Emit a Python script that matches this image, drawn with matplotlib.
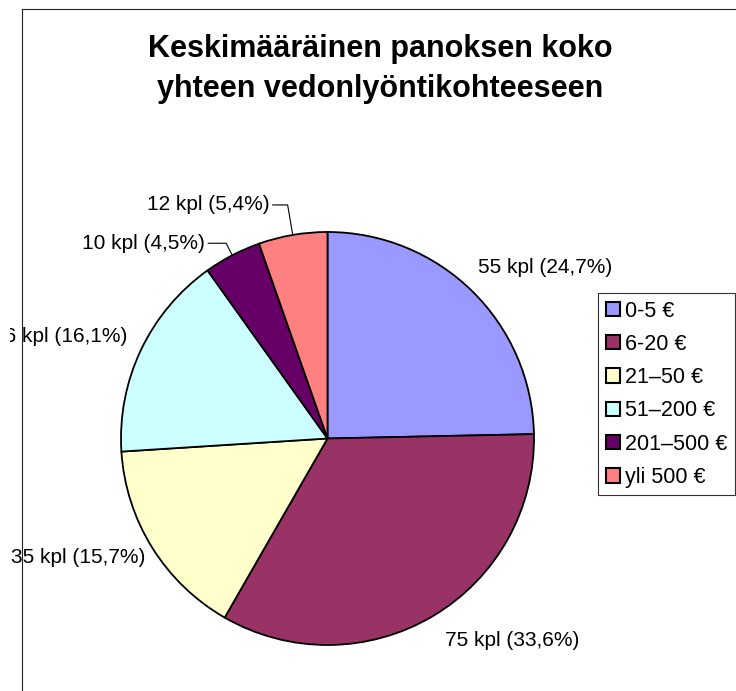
import numpy as np
import matplotlib
matplotlib.use("Agg")
import matplotlib.pyplot as plt
from matplotlib.patches import Rectangle
from matplotlib.lines import Line2D
from matplotlib.transforms import Bbox, TransformedBbox

### Data
categories = ["0-5 €", "6-20 €", "21–50 €", "51–200 €", "201–500 €", "yli 500 €"]
counts = [55, 75, 35, 36, 10, 12]
percents = ["24,7", "33,6", "15,7", "16,1", "4,5", "5,4"]
colors = ["#9999FF", "#993366", "#FFFFCC", "#CCFFFF", "#660066", "#FF8080"]
title = "Keskimääräinen panoksen koko\nyhteen vedonlyöntikohteeseen"

plt.rcParams['font.family'] = ['Liberation Sans', 'DejaVu Sans']

W, H = 736, 691
fig = plt.figure(figsize=(W / 100, H / 100), dpi=100)

# pie centre / radius in pixels
cx, cy, r = 327.5, 438.5, 206.5
ax = fig.add_axes([(cx - r) / W, 1 - (cy + r) / H, 2 * r / W, 2 * r / H])
wedges, _ = ax.pie(counts, colors=colors, startangle=90, counterclock=False,
                   radius=1, wedgeprops=dict(edgecolor='black', linewidth=1.3))
ax.set_xlim(-1, 1)
ax.set_ylim(-1, 1)
ax.set_aspect('equal')
ax.axis('off')

# label offsets in pixels from the wedge edge, alignment, leader line or not
label_layout = [
    ((6, 23), 'left', False),
    ((12, -24), 'left', False),
    ((-7, -10), 'right', False),
    ((-14, 13), 'right', False),
    ((-27, 12), 'right', True),
    ((-23, 30), 'right', True),
]

clip = TransformedBbox(Bbox.from_extents(10 / W, 0, 1, 1), fig.transFigure)
for w, n, p, (off, ha, leader) in zip(wedges, counts, percents, label_layout):
    mid = np.deg2rad((w.theta1 + w.theta2) / 2)
    xy = (np.cos(mid), np.sin(mid))
    props = None
    if leader:
        props = dict(arrowstyle='-', color='black', lw=0.8, relpos=(1, 0.5),
                     shrinkA=0, shrinkB=0,
                     connectionstyle='angle,angleA=0,angleB=%.1f' % np.rad2deg(mid))
    t = ax.annotate("%d kpl (%s%%)" % (n, p), xy=xy, xytext=off,
                    textcoords='offset pixels', ha=ha, va='center',
                    fontsize=15, arrowprops=props, annotation_clip=False)
    t.set_clip_box(clip)
    t.set_clip_on(True)

fig.text(380 / W, 1 - 69 / H, title, ha='center', va='center',
         fontsize=22, fontweight='bold', linespacing=1.45)

handles = [Rectangle((0, 0), 1, 1, facecolor=c, edgecolor='black', lw=1.5)
           for c in colors]
leg = fig.legend(handles, categories, loc='upper right',
                 bbox_to_anchor=(735 / W, 1 - 293 / H), borderaxespad=0,
                 fontsize=15.5, frameon=True, fancybox=False,
                 handlelength=0.65, handleheight=0.65, handletextpad=0.25,
                 labelspacing=0.57, borderpad=0.35)
leg.get_frame().set_edgecolor('black')
leg.get_frame().set_linewidth(0.8)

# outer chart frame (cropped at right and bottom)
fig.add_artist(Line2D([22 / W, 22 / W], [0, 1 - 9 / H], color='#222222', lw=0.8))
fig.add_artist(Line2D([22 / W, 1], [1 - 9 / H, 1 - 9 / H], color='#222222', lw=0.8))

fig.savefig("out.png", dpi=100)
